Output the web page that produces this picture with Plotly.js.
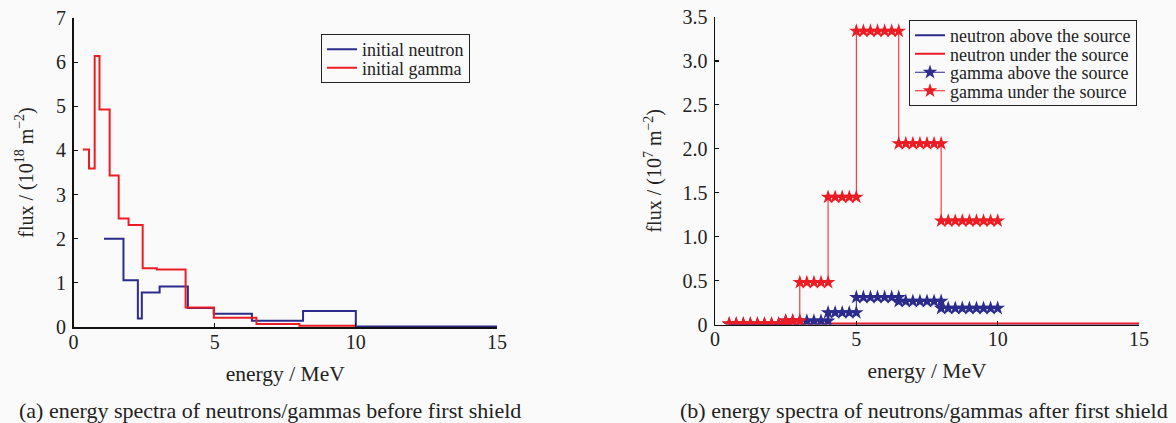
<!DOCTYPE html>
<html>
<head>
<meta charset="utf-8">
<script src="https://cdn.plot.ly/plotly-3.0.1.min.js"></script>
<style>html,body{margin:0;padding:0;background:#fafafa;}#chart{width:1176px;height:423px;}</style>
</head>
<body>
<div id="chart"></div>
<script>
// ---- (a) before first shield ----
const initNeutronEdges = [1.08, 1.77, 2.28, 2.42, 3.05, 4.05, 4.97, 6.32, 8.13, 10.0, 15.0];
const initNeutronFlux  = [2.0, 1.06, 0.19, 0.78, 0.92, 0.43, 0.30, 0.14, 0.36, 0.01];
const initGammaEdges = [0.33, 0.55, 0.75, 0.92, 1.28, 1.6, 1.95, 2.45, 2.95, 3.97, 4.97, 6.48, 8.0, 10.0];
const initGammaFlux  = [4.02, 3.59, 6.14, 4.93, 3.43, 2.46, 2.31, 1.33, 1.30, 0.44, 0.21, 0.07, 0.03];

// ---- (b) after first shield ----
const neutronAboveEdges = [0.5, 15.0];
const neutronAboveFlux  = [0.0];
const neutronUnderEdges = [0.5, 15.0];
const neutronUnderFlux  = [0.012];
const gammaAboveEdges = [0.5, 2.5, 4.0, 5.0, 6.5, 8.0, 10.0];
const gammaAboveFlux  = [0.003, 0.04, 0.135, 0.31, 0.265, 0.185];
const gammaUnderEdges = [0.5, 2.5, 3.0, 4.0, 5.0, 6.5, 8.0, 10.0];
const gammaUnderFlux  = [0.01, 0.04, 0.48, 1.45, 3.34, 2.06, 1.18];
// energies at which the gamma spectra are sampled (marker positions)
const sampleEnergies = [0.5,0.75,1,1.25,1.5,1.75,2,2.25,2.5,2.75,3,3.25,3.5,3.75,4,4.25,4.5,4.75,5,5.25,5.5,5.75,6,6.25,6.5,6.75,7,7.25,7.5,7.75,8,8.25,8.5,8.75,9,9.25,9.5,9.75,10];

const xTicksA = [0, 5, 10, 15];
const yTicksA = [0, 1, 2, 3, 4, 5, 6, 7];
const xTicksB = [0, 5, 10, 15];
const yTicksB = [0, 0.5, 1.0, 1.5, 2.0, 2.5, 3.0, 3.5];
const yTickTextB = ['0', '0.5', '1.0', '1.5', '2.0', '2.5', '3.0', '3.5'];

const RED = '#ec1c24', BLUE = '#2b2b8c', TXT = '#222';
const FONT = 'Liberation Serif, Times New Roman, serif';

function stairs(edges, flux) {
  return { x: edges.slice(), y: flux.concat([flux[flux.length - 1]]) };
}
function sampled(edges, flux, grid) {
  const x = [], y = [];
  for (let i = 0; i < flux.length; i++) {
    grid.forEach(e => {
      if (e >= edges[i] - 1e-9 && e <= edges[i + 1] + 1e-9) { x.push(e); y.push(flux[i]); }
    });
  }
  return { x, y };
}

const sN = stairs(initNeutronEdges, initNeutronFlux);
const sG = stairs(initGammaEdges, initGammaFlux);
const nA = stairs(neutronAboveEdges, neutronAboveFlux);
const nU = stairs(neutronUnderEdges, neutronUnderFlux);
const gA = sampled(gammaAboveEdges, gammaAboveFlux, sampleEnergies);
const gU = sampled(gammaUnderEdges, gammaUnderFlux, sampleEnergies);

const traces = [
  { x: sN.x, y: sN.y, name: 'initial neutron', mode: 'lines', line: { color: BLUE, width: 2, shape: 'hv' }, xaxis: 'x', yaxis: 'y', legend: 'legend' },
  { x: sG.x, y: sG.y, name: 'initial gamma', mode: 'lines', line: { color: RED, width: 2, shape: 'hv' }, xaxis: 'x', yaxis: 'y', legend: 'legend' },
  { x: nA.x, y: nA.y, name: 'neutron above the source', mode: 'lines', line: { color: BLUE, width: 2, shape: 'hv' }, xaxis: 'x2', yaxis: 'y2', legend: 'legend2' },
  { x: nU.x, y: nU.y, name: 'neutron under the source', mode: 'lines', line: { color: RED, width: 2, shape: 'hv' }, xaxis: 'x2', yaxis: 'y2', legend: 'legend2' },
  { x: gA.x, y: gA.y, name: 'gamma above the source', mode: 'lines+markers', line: { color: BLUE, width: 1 }, marker: { symbol: 'star', size: 11, color: BLUE }, xaxis: 'x2', yaxis: 'y2', legend: 'legend2' },
  { x: gU.x, y: gU.y, name: 'gamma under the source', mode: 'lines+markers', line: { color: RED, width: 1 }, marker: { symbol: 'star', size: 11, color: RED }, xaxis: 'x2', yaxis: 'y2', legend: 'legend2' }
];

const axisCommon = {
  showgrid: false, zeroline: false, showline: true, linecolor: '#111', linewidth: 1.5,
  ticks: 'inside', ticklen: 4, tickcolor: '#111', tickwidth: 1.2,
  tickfont: { family: FONT, size: 20, color: TXT }
};
const xTitleFont = { family: FONT, size: 21.5, color: TXT };
const yTitleFont = { family: FONT, size: 20, color: TXT };
const H = 423, W = 1176;
const layout = {
  width: W, height: H,
  margin: { l: 0, r: 0, t: 0, b: 0 },
  paper_bgcolor: '#fafafa', plot_bgcolor: '#fafafa',
  font: { family: FONT, color: TXT, size: 18 },
  showlegend: true,
  xaxis: Object.assign({}, axisCommon, { domain: [73.5 / W, 497 / W], range: [0, 15], tickvals: xTicksA, anchor: 'y', ticklabelstandoff: -4,
    title: { text: 'energy / MeV', font: xTitleFont, standoff: 14 } }),
  yaxis: Object.assign({}, axisCommon, { domain: [(H - 327) / H, (H - 18) / H], range: [0, 7], tickvals: yTicksA, anchor: 'x', ticklabelstandoff: 2,
    title: { text: 'flux / (10<sup>18</sup> m<sup>−2</sup>)', font: yTitleFont, standoff: 17 } }),
  xaxis2: Object.assign({}, axisCommon, { domain: [715 / W, 1139 / W], range: [0, 15], tickvals: xTicksB, anchor: 'y2', ticklabelstandoff: -4,
    title: { text: 'energy / MeV', font: xTitleFont, standoff: 14 } }),
  yaxis2: Object.assign({}, axisCommon, { domain: [(H - 324.5) / H, (H - 17) / H], range: [0, 3.5], tickvals: yTicksB, ticktext: yTickTextB, anchor: 'x2', ticklabelstandoff: 2,
    title: { text: 'flux / (10<sup>7</sup> m<sup>−2</sup>)', font: yTitleFont, standoff: 15 } }),
  legend: { x: 321 / W, y: 1 - 34 / H, xanchor: 'left', yanchor: 'top', bgcolor: '#fafafa', bordercolor: '#222', borderwidth: 1,
    font: { family: FONT, size: 18, color: TXT }, tracegroupgap: 0 },
  legend2: { x: 909 / W, y: 1 - 20 / H, xanchor: 'left', yanchor: 'top', bgcolor: '#fafafa', bordercolor: '#222', borderwidth: 1,
    font: { family: FONT, size: 18, color: TXT }, tracegroupgap: 0 },
  annotations: [
    { text: '(a) energy spectra of neutrons/gammas before first shield', xref: 'paper', yref: 'paper', x: 270 / W, y: 1 - 410 / H, showarrow: false, xanchor: 'center', yanchor: 'middle', font: { family: FONT, size: 22, color: TXT } },
    { text: '(b) energy spectra of neutrons/gammas after first shield', xref: 'paper', yref: 'paper', x: 924 / W, y: 1 - 410 / H, showarrow: false, xanchor: 'center', yanchor: 'middle', font: { family: FONT, size: 22, color: TXT } }
  ]
};

// tighten legend row spacing to match the compact legend boxes of the reference
function compactLegend(id, step) {
  try {
    const g = document.querySelector('#chart g.' + id);
    if (!g) return;
    const items = Array.from(g.querySelectorAll('g.traces'));
    if (items.length < 2) return;
    const re = /translate\(\s*([-\d.e]+)[\s,]+([-\d.e]+)\s*\)/;
    const pos = items.map(it => { const m = re.exec(it.getAttribute('transform') || ''); return m ? [+m[1], +m[2]] : null; });
    if (pos.some(p => !p)) return;
    const orig = pos[1][1] - pos[0][1];
    const d = orig - step;
    const first = pos[0][1] - d / 2;
    items.forEach((it, i) => it.setAttribute('transform', 'translate(' + pos[i][0] + ',' + (first + i * step) + ')'));
    const bg = g.querySelector('rect.bg');
    if (bg) bg.setAttribute('height', (+bg.getAttribute('height')) - d * items.length);
  } catch (e) { /* keep default legend */ }
}

Plotly.newPlot('chart', traces, layout, { displayModeBar: false, staticPlot: true }).then(() => {
  compactLegend('legend', 18.5);
  compactLegend('legend2', 18.5);
});
</script>
</body>
</html>
